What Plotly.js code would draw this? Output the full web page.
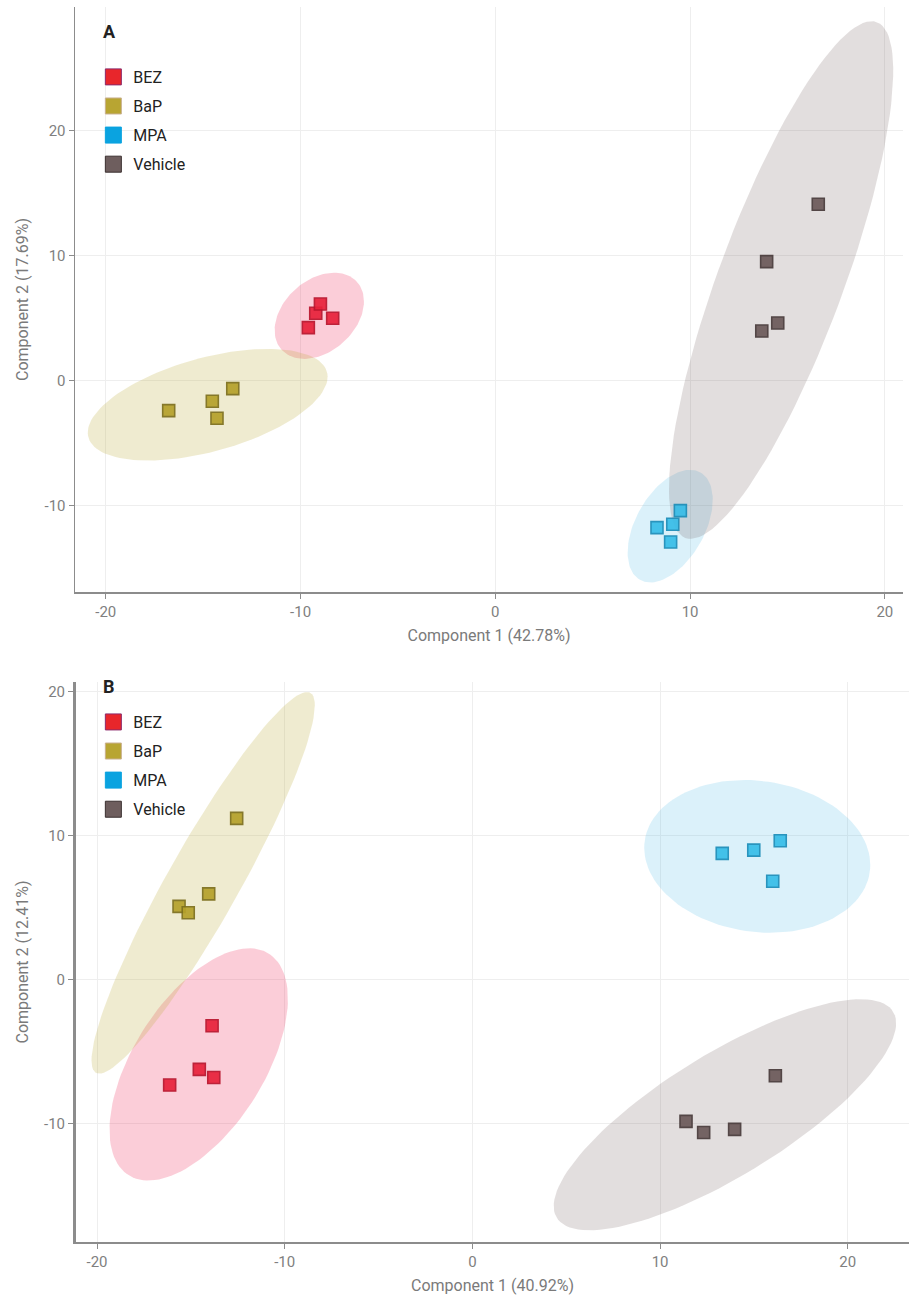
<!DOCTYPE html>
<html>
<head>
<meta charset="utf-8">
<script src="https://cdn.plot.ly/plotly-3.0.1.min.js"></script>
<style>html,body{margin:0;padding:0;background:#fff;}#chart{width:911px;height:1297px;}</style>
</head>
<body>
<div id="chart"></div>
<script>
// ---------- DATA ----------
const groups = ['BEZ', 'BaP', 'MPA', 'Vehicle'];

// Panel A (Component 1 42.78%, Component 2 17.69%)
const aBEZx = [-9.60, -9.22, -8.98, -8.35];
const aBEZy = [4.21, 5.36, 6.10, 4.96];
const aBaPx = [-16.77, -14.53, -14.29, -13.48];
const aBaPy = [-2.43, -1.68, -3.04, -0.67];
const aMPAx = [9.50, 8.30, 9.11, 9.00];
const aMPAy = [-10.43, -11.79, -11.52, -12.94];
const aVehx = [16.58, 13.93, 13.68, 14.50];
const aVehy = [14.08, 9.49, 3.94, 4.58];

// Panel B (Component 1 40.92%, Component 2 12.41%)
const bBEZx = [-13.87, -14.55, -13.78, -16.13];
const bBEZy = [-3.22, -6.25, -6.81, -7.34];
const bBaPx = [-12.56, -14.05, -15.63, -15.14];
const bBaPy = [11.18, 5.94, 5.07, 4.63];
const bMPAx = [13.31, 14.99, 16.40, 16.00];
const bMPAy = [8.75, 8.98, 9.63, 6.81];
const bVehx = [16.14, 11.38, 12.32, 13.97];
const bVehy = [-6.69, -9.86, -10.63, -10.42];

const panelTitles = ['A', 'B'];
const xTitles = ['Component 1 (42.78%)', 'Component 1 (40.92%)'];
const yTitles = ['Component 2 (17.69%)', 'Component 2 (12.41%)'];
const tickVals = [-20, -10, 0, 10, 20];
const tickText = ['-20', '-10', '0', '10', '20'];

// ---------- STYLE ----------
const markerFill = {BEZ: '#e8213a', BaP: '#b5a12b', MPA: '#37bde8', Vehicle: '#6b5959'};
const markerLine = {BEZ: '#b8142c', BaP: '#7d6f1c', MPA: '#1b8db8', Vehicle: '#473a3a'};
const legendFill = {BEZ: '#e8262b', BaP: '#b8a532', MPA: '#0aa3e0', Vehicle: '#6e5e5e'};
const legendLine = {BEZ: '#8b2a6b', BaP: '#c9b08f', MPA: '#0aa3e0', Vehicle: '#3a3030'};
const ellipseFill = {
  BEZ: 'rgba(236,40,85,0.23)',
  BaP: 'rgba(190,172,60,0.24)',
  MPA: 'rgba(40,170,225,0.17)',
  Vehicle: 'rgba(110,90,90,0.20)'
};

// 95% confidence ellipse (t-based, like ggplot stat_ellipse) computed from the points
function ellipse(xs, ys, level) {
  const n = xs.length;
  const mx = xs.reduce((a, b) => a + b, 0) / n;
  const my = ys.reduce((a, b) => a + b, 0) / n;
  let sxx = 0, syy = 0, sxy = 0;
  for (let i = 0; i < n; i++) {
    const dx = xs[i] - mx, dy = ys[i] - my;
    sxx += dx * dx; syy += dy * dy; sxy += dx * dy;
  }
  sxx /= (n - 1); syy /= (n - 1); sxy /= (n - 1);
  const tr = sxx + syy, det = sxx * syy - sxy * sxy;
  const disc = Math.sqrt(Math.max(tr * tr / 4 - det, 0));
  const l1 = tr / 2 + disc, l2 = tr / 2 - disc;
  const ang = Math.atan2(l1 - sxx, sxy === 0 ? 1e-12 : sxy);
  const d2 = n - 1;
  const F = (d2 / 2) * (Math.pow(1 - level, -2 / d2) - 1); // F quantile, df1 = 2
  const r = Math.sqrt(2 * F);
  const a = r * Math.sqrt(l1), b = r * Math.sqrt(Math.max(l2, 0));
  const ex = [], ey = [];
  for (let k = 0; k <= 120; k++) {
    const t = 2 * Math.PI * k / 120;
    const u = a * Math.cos(t), v = b * Math.sin(t);
    ex.push(mx + u * Math.cos(ang) - v * Math.sin(ang));
    ey.push(my + u * Math.sin(ang) + v * Math.cos(ang));
  }
  return {x: ex, y: ey};
}

const panels = [
  {xa: 'x', ya: 'y', legend: 'legend', data: {BEZ: [aBEZx, aBEZy], BaP: [aBaPx, aBaPy], MPA: [aMPAx, aMPAy], Vehicle: [aVehx, aVehy]}},
  {xa: 'x2', ya: 'y2', legend: 'legend2', data: {BEZ: [bBEZx, bBEZy], BaP: [bBaPx, bBaPy], MPA: [bMPAx, bMPAy], Vehicle: [bVehx, bVehy]}}
];

const traces = [];
panels.forEach((p, pi) => {
  groups.forEach(g => {
    const e = ellipse(p.data[g][0], p.data[g][1], 0.95);
    traces.push({
      type: 'scatter', mode: 'lines', x: e.x, y: e.y, xaxis: p.xa, yaxis: p.ya,
      fill: 'toself', fillcolor: ellipseFill[g], line: {width: 0, color: 'rgba(0,0,0,0)'},
      hoverinfo: 'skip', showlegend: false, legend: p.legend, legendgroup: g + pi
    });
  });
  groups.forEach(g => {
    traces.push({
      type: 'scatter', mode: 'markers', name: g, x: p.data[g][0], y: p.data[g][1],
      xaxis: p.xa, yaxis: p.ya, legend: p.legend, legendgroup: g + pi, showlegend: false,
      marker: {symbol: 'square', size: 12, color: markerFill[g], opacity: 0.92,
               line: {width: 1.6, color: markerLine[g]}}
    });
  });
  groups.forEach(g => {
    traces.push({
      type: 'scatter', mode: 'markers', name: g, x: [null], y: [null],
      xaxis: p.xa, yaxis: p.ya, legend: p.legend, legendgroup: g + pi, showlegend: true,
      marker: {symbol: 'square', size: 18, color: legendFill[g], line: {width: 1, color: legendLine[g]}}
    });
  });
});

const fam = 'Roboto, "Noto Sans", sans-serif';
function axis(domain, range, anchor, title, lw, standoff) {
  return {
    domain: domain, range: range, anchor: anchor, tickvals: tickVals, ticktext: tickText,
    showgrid: true, gridcolor: '#eeeeee', gridwidth: 1, zeroline: false,
    showline: true, linecolor: '#8c8c8c', linewidth: lw,
    ticks: 'outside', ticklen: 5, tickcolor: '#8c8c8c', tickwidth: 1,
    tickfont: {family: fam, size: 15, color: '#7f7f7f'},
    title: {text: title, font: {family: fam, size: 16, color: '#7a7a7a'}, standoff: standoff},
    fixedrange: true
  };
}

const legendCommon = {
  bgcolor: 'rgba(0,0,0,0)', borderwidth: 0, traceorder: 'grouped', tracegroupgap: 5.3,
  font: {family: fam, size: 16, color: '#222222'}, xanchor: 'left', yanchor: 'top',
  itemsizing: 'trace'
};

const layout = {
  width: 911, height: 1297,
  margin: {l: 75, r: 2, t: 7, b: 55},
  paper_bgcolor: '#ffffff', plot_bgcolor: '#ffffff',
  font: {family: fam},
  showlegend: true,
  xaxis: axis([0, 0.9928], [-21.58, 20.93], 'y', xTitles[0], 1.5, 10),
  yaxis: axis([0.5263, 1], [-16.94, 29.86], 'x', yTitles[0], 1.5, 12),
  xaxis2: axis([0.0012, 1], [-21.12, 23.26], 'y2', xTitles[1], 1.5, 10),
  yaxis2: axis([0, 0.4534], [-18.24, 20.65], 'x2', yTitles[1], 3, 12),
  legend: Object.assign({}, legendCommon, {x: 0.022, y: 0.9571}),
  legend2: Object.assign({}, legendCommon, {x: 0.022, y: 0.4348}),
  annotations: [
    {text: '<b>' + panelTitles[0] + '</b>', xref: 'paper', yref: 'paper', x: 0.0312, y: 0.9800,
     xanchor: 'left', yanchor: 'middle', showarrow: false, font: {family: fam, size: 18, color: '#222222'}},
    {text: '<b>' + panelTitles[1] + '</b>', xref: 'paper', yref: 'paper', x: 0.0312, y: 0.4502,
     xanchor: 'left', yanchor: 'middle', showarrow: false, font: {family: fam, size: 18, color: '#222222'}}
  ]
};

Plotly.newPlot('chart', traces, layout, {displayModeBar: false, staticPlot: true});
</script>
</body>
</html>
